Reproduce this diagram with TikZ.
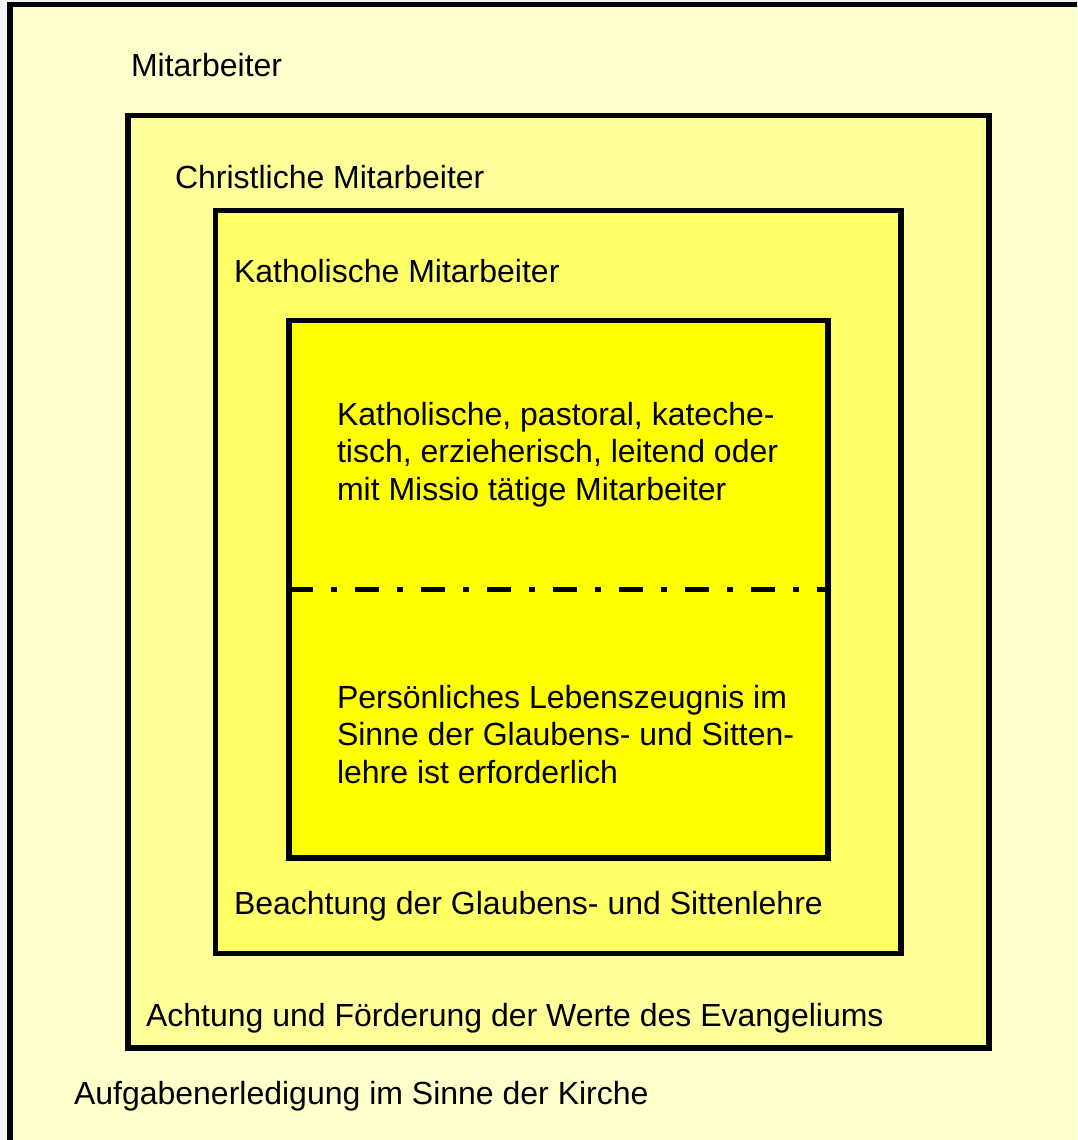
\documentclass[tikz,border=0pt]{standalone}
\usepackage{fontspec}
\setmainfont{Liberation Sans}
\definecolor{fillA}{HTML}{FFFFCC}
\definecolor{fillB}{HTML}{FFFF99}
\definecolor{fillC}{HTML}{FFFF66}
\definecolor{fillD}{HTML}{FFFF00}
\definecolor{edgebg}{HTML}{F2F2F2}
\tikzset{
  frame/.style={draw=black, line width=5.5pt},
  lbl/.style={anchor=base west, inner sep=0pt, outer sep=0pt,
    font=\fontsize{32}{37.5}\selectfont},
  sepline/.style={draw=black, line width=5.5pt,
    dash pattern=on 24pt off 18pt on 6pt off 18pt}
}
\begin{document}
\begin{tikzpicture}[x=1pt, y=-1pt]
\path[use as bounding box, clip] (0,0) rectangle (1077,1140);
\fill[edgebg] (0,0) rectangle (1077,1140);
% boxes
\path[frame, fill=fillA] (10,4.5) rectangle (1110,1170);
\path[frame, fill=fillB] (128,115.5) rectangle (989,1048);
\path[frame, fill=fillC] (215.5,210.5) rectangle (901,953.5);
\path[frame, fill=fillD] (289,320.5) rectangle (828,858);
\coordinate (sepL) at (289,589.5);
\coordinate (sepR) at (828,589.5);
\path[sepline] (sepL) -- (sepR);
% labels
\node[lbl] (t1) at (131,76) {Mitarbeiter};
\node[lbl] (t2) at (175,188) {Christliche Mitarbeiter};
\node[lbl] (t3) at (234,282) {Katholische Mitarbeiter};
\node[lbl] (t4) at (337,425) {\begin{tabular}[t]{@{}l@{}}Katholische, pastoral, kateche-\\tisch, erzieherisch, leitend oder\\mit Missio tätige Mitarbeiter\end{tabular}};
\node[lbl] (t5) at (337,708) {\begin{tabular}[t]{@{}l@{}}Persönliches Lebenszeugnis im\\Sinne der Glaubens- und Sitten-\\lehre ist erforderlich\end{tabular}};
\node[lbl] (t6) at (234,914) {Beachtung der Glaubens- und Sittenlehre};
\node[lbl] (t7) at (146,1026) {Achtung und Förderung der Werte des Evangeliums};
\node[lbl] (t8) at (74,1104) {Aufgabenerledigung im Sinne der Kirche};
\end{tikzpicture}
\end{document}
